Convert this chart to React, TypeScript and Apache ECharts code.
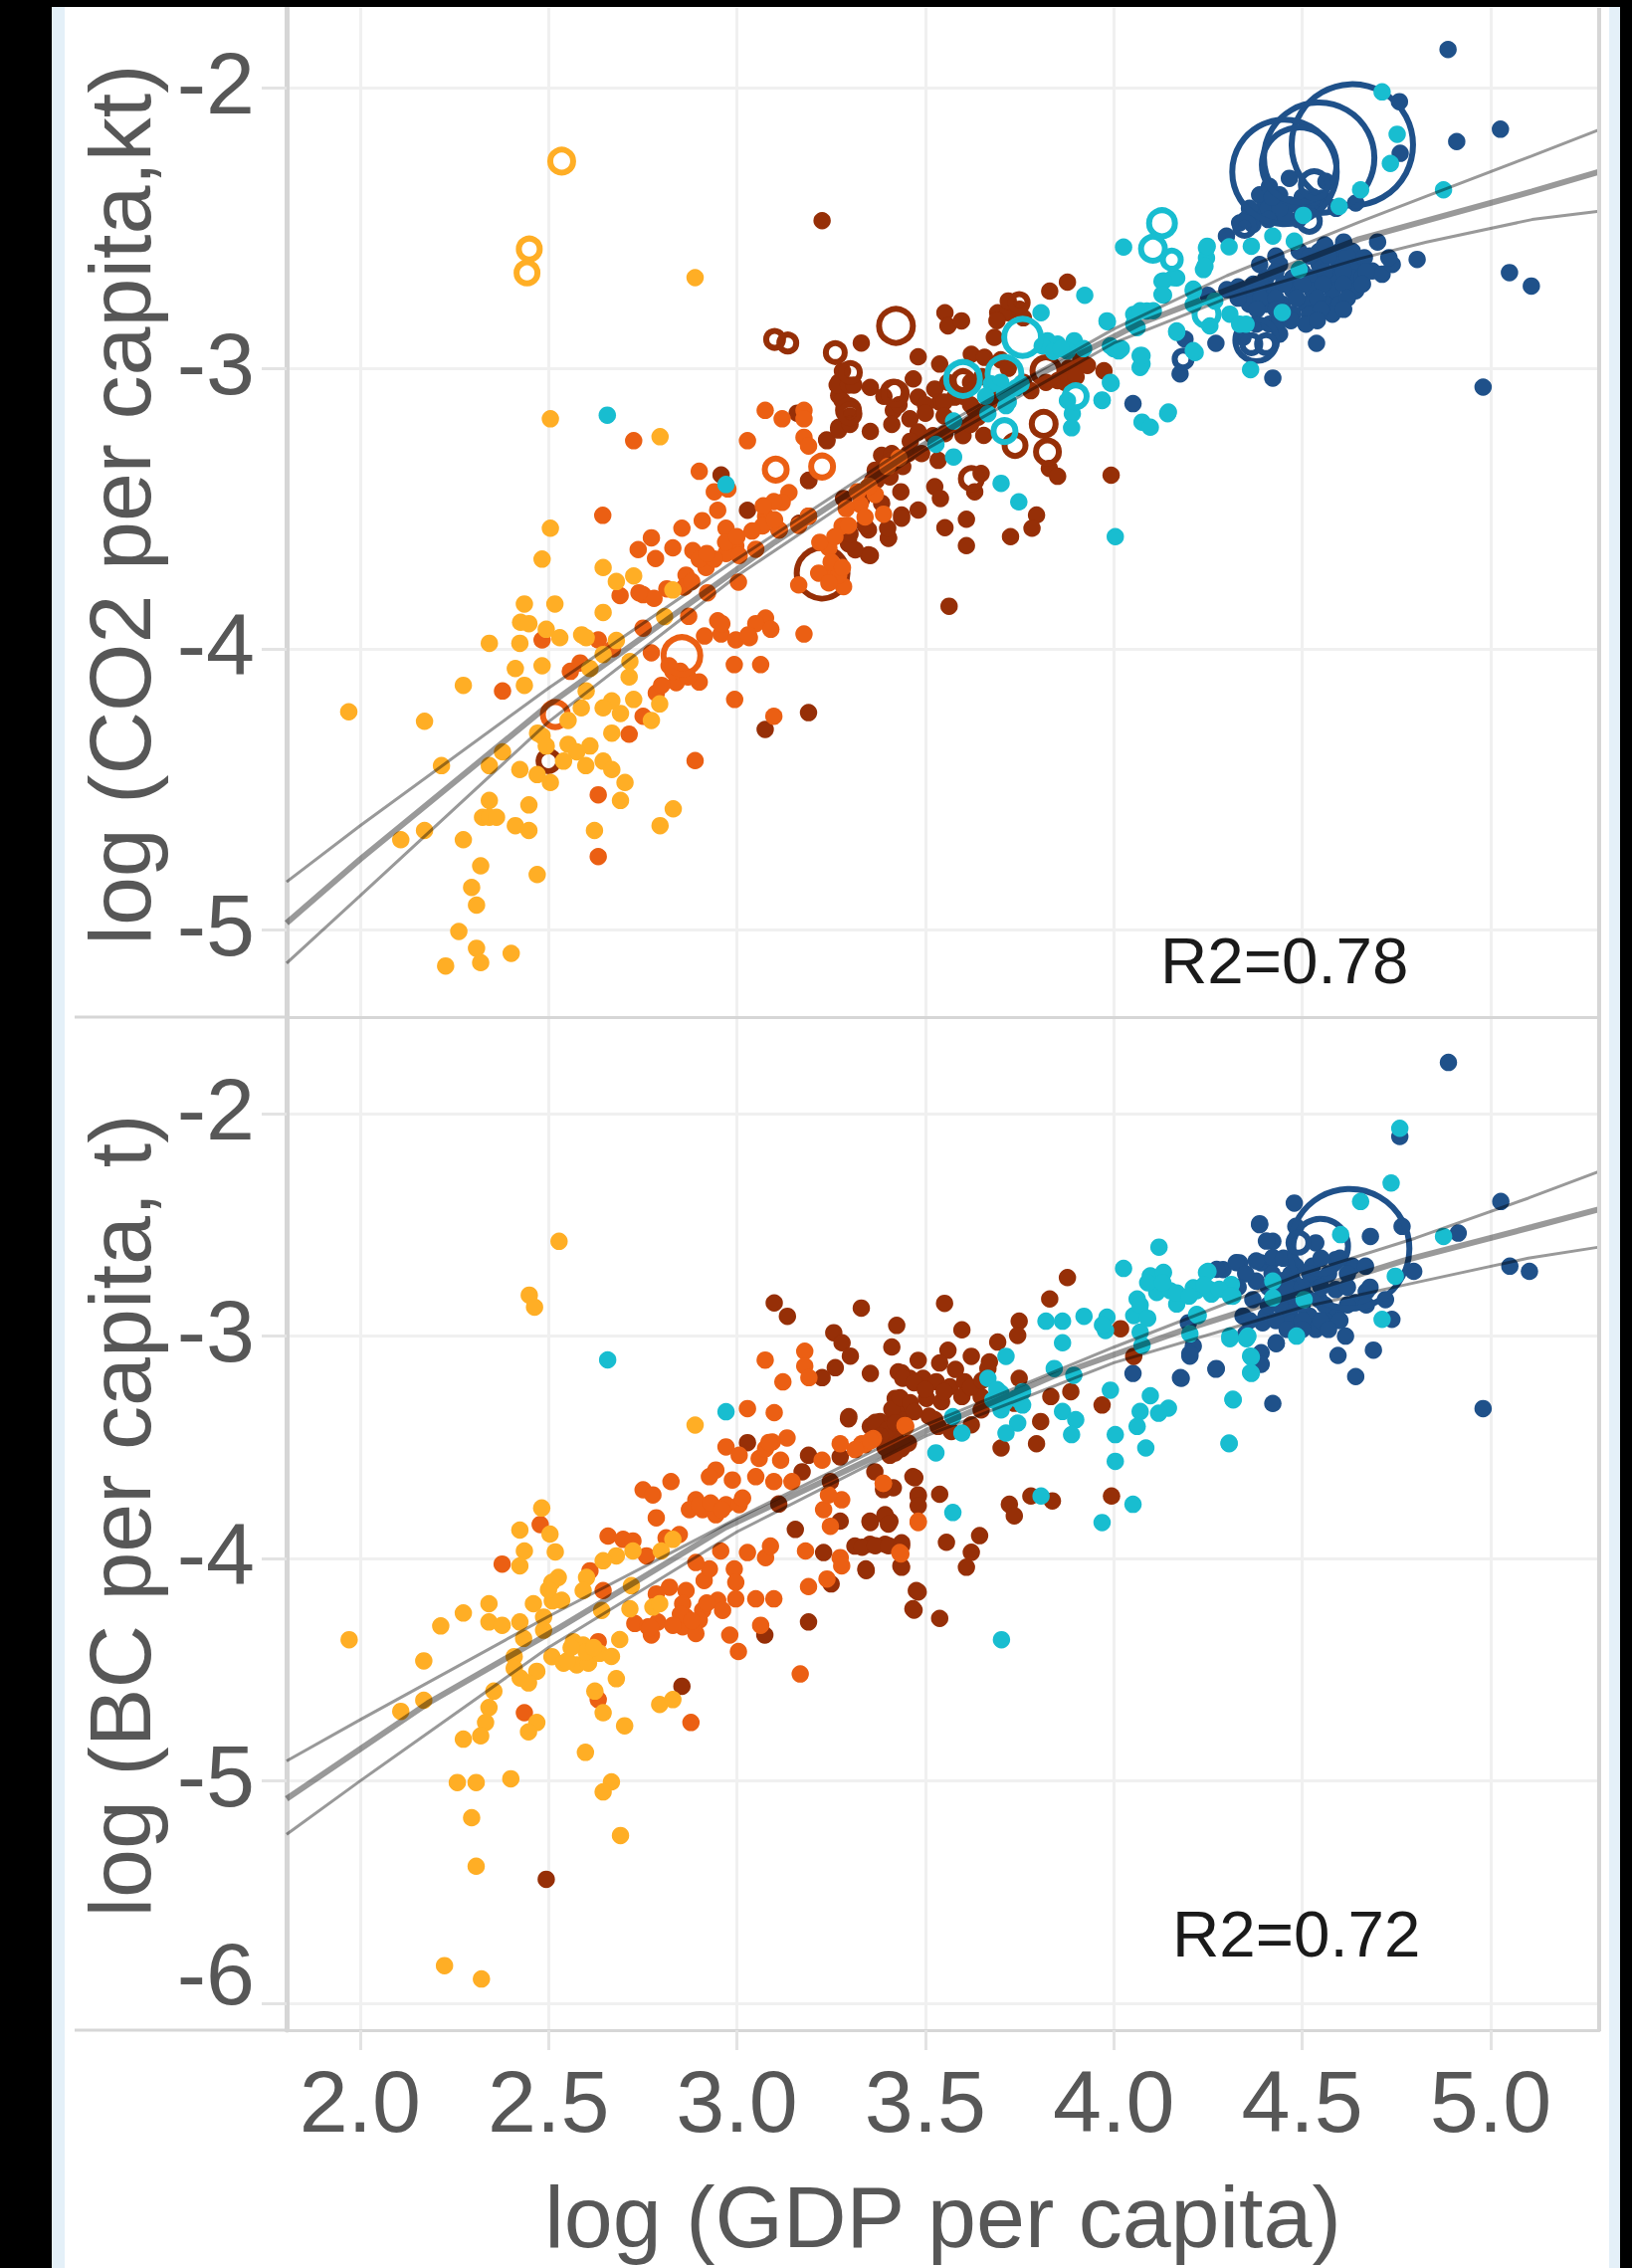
import React, { useEffect, useRef } from "react";
import * as echarts from "echarts";

type P = number[];

const xTicks = [2, 2.5, 3, 3.5, 4, 4.5, 5];
const yTicksTop = [-5, -4, -3, -2];
const yTicksBottom = [-6, -5, -4, -3, -2];
const xTitle = "log (GDP per capita)";
const yTitleTop = "log (CO2 per capita,kt)";
const yTitleBottom = "log (BC per capita, t)";
const r2Top = "R2=0.78";
const r2Bottom = "R2=0.72";

const topYellow: P[] = [[2.505,-3.18],[2.796,-3.244],[2.505,-3.57],[2.483,-3.68],[2.645,-3.71],[2.68,-3.76],[2.726,-3.74],[2.83,-3.79],[2.436,-3.84],[2.517,-3.84],[2.645,-3.87],[2.426,-3.905],[2.448,-3.91],[2.494,-3.93],[2.53,-3.96],[2.588,-3.95],[2.6,-3.96],[2.343,-3.98],[2.424,-3.98],[2.68,-3.97],[2.808,-3.885],[2.645,-4.02],[2.61,-4.07],[2.716,-4.045],[2.714,-4.1],[2.483,-4.06],[2.412,-4.07],[2.274,-4.13],[2.436,-4.13],[2.6,-4.15],[2.587,-4.21],[2.726,-4.18],[2.668,-4.185],[2.645,-4.21],[2.691,-4.23],[2.795,-4.196],[2.773,-4.255],[2.552,-4.255],[2.171,-4.258],[2.668,-4.3],[2.483,-4.31],[2.494,-4.346],[2.471,-4.3],[2.552,-4.34],[2.61,-4.346],[2.575,-4.367],[2.216,-4.416],[2.378,-4.367],[2.343,-4.416],[2.54,-4.4],[2.599,-4.416],[2.645,-4.4],[2.668,-4.43],[2.424,-4.43],[2.47,-4.448],[2.505,-4.476],[2.703,-4.476],[2.691,-4.54],[2.343,-4.54],[2.448,-4.556],[2.325,-4.6],[2.343,-4.6],[2.362,-4.6],[2.412,-4.63],[2.448,-4.647],[2.274,-4.68],[2.622,-4.647],[2.831,-4.57],[2.796,-4.63],[2.171,-4.647],[2.32,-4.773],[2.47,-4.804],[2.296,-4.85],[2.309,-4.913],[2.262,-5.007],[2.309,-5.067],[2.32,-5.118],[2.401,-5.085],[2.227,-5.13],[2.889,-2.677],[1.97,-4.224],[2.108,-4.68]];
const topOrange: P[] = [[2.644,-3.524],[2.726,-3.258],[2.9,-3.367],[3.028,-3.258],[3.075,-3.15],[3.12,-3.18],[3.178,-3.15],[3.178,-3.18],[3.178,-3.246],[3.19,-3.277],[2.976,-3.43],[2.94,-3.44],[2.949,-3.506],[2.908,-3.543],[2.854,-3.57],[2.971,-3.57],[2.773,-3.604],[2.738,-3.646],[2.784,-3.678],[2.83,-3.64],[2.883,-3.65],[2.997,-3.632],[2.971,-3.66],[2.918,-3.71],[2.865,-3.737],[3.004,-3.762],[2.814,-3.786],[2.751,-3.807],[2.69,-3.81],[3.076,-3.527],[3.068,-3.562],[3.138,-3.443],[3.12,-3.478],[3.098,-3.475],[3.244,-3.64],[3.279,-3.562],[3.327,-3.485],[3.367,-3.45],[3.389,-3.52],[3.252,-3.72],[3.283,-3.778],[3.164,-3.772],[3.217,-3.73],[3.27,-3.737],[3.244,-3.765],[2.632,-3.968],[3.076,-3.89],[3.05,-3.91],[3.09,-3.93],[2.949,-3.9],[2.914,-3.954],[2.958,-3.947],[2.997,-3.968],[3.033,-3.96],[2.872,-3.884],[3.178,-3.947],[2.773,-4.014],[2.993,-4.056],[3.063,-4.056],[2.839,-4.12],[2.786,-4.157],[2.9,-4.118],[2.994,-4.18],[3.098,-4.24],[2.751,-4.24],[2.714,-4.304],[2.378,-4.15],[2.889,-4.398],[2.632,-4.52],[2.632,-4.74],[2.483,-3.968],[2.83,-4.08],[2.558,-4.08],[2.584,-4.05],[2.67,-4.0],[2.751,-3.926],[2.922,-3.8],[3.006,-3.667],[3.05,-3.645],[3.112,-3.576],[3.164,-3.56],[3.19,-3.527],[3.4,-3.35],[3.43,-3.32],[3.35,-3.42],[3.32,-3.44],[3.29,-3.5],[3.34,-3.53],[3.296,-3.56]];
const topOrangeDense: P[] = [[3.07,-3.49],[3.1,-3.54],[3.04,-3.58],[2.9,-3.68],[2.94,-3.68],[2.86,-3.78],[2.88,-3.76],[2.78,-3.82],[2.74,-3.8],[2.92,-3.66],[2.97,-3.62],[3,-3.6],[3.25,-3.69],[3.28,-3.71],[3.22,-3.62],[3.26,-3.6],[2.85,-4.08],[2.82,-4.06],[2.8,-4.13],[2.87,-4.1],[3.03,-3.95],[2.96,-3.91]];
const topBrown: P[] = [[3.19,-4.227],[3.075,-4.287],[2.958,-3.38],[3.028,-3.506],[3.19,-3.4],[3.239,-3.258],[3.16,-3.16],[3.226,-2.474],[3.33,-2.91],[3.481,-2.959],[3.538,-2.985],[3.552,-2.802],[3.56,-2.849],[3.596,-2.831],[3.692,-2.802],[3.719,-2.802],[3.83,-2.725],[3.877,-2.693],[3.27,-3.05],[3.27,-3.097],[3.354,-3.068],[3.468,-3.038],[3.481,-3.103],[3.525,-3.074],[3.538,-3.121],[3.578,-3.103],[3.622,-2.95],[3.657,-2.961],[3.683,-2.89],[3.631,-3.15],[3.279,-3.115],[3.27,-3.21],[3.354,-3.225],[3.415,-3.15],[3.411,-3.2],[3.459,-3.18],[3.238,-3.255],[3.481,-3.227],[3.552,-3.233],[3.64,-3.174],[3.655,-3.239],[3.829,-3.357],[3.851,-3.385],[3.993,-3.381],[3.851,-3.044],[3.912,-2.973],[3.974,-3.009],[3.88,-3],[3.384,-3.31],[3.411,-3.304],[3.455,-3.304],[3.49,-3.304],[3.534,-3.328],[3.367,-3.363],[3.406,-3.387],[3.435,-3.44],[3.525,-3.422],[3.54,-3.464],[3.631,-3.44],[3.648,-3.375],[3.191,-3.399],[3.283,-3.464],[3.384,-3.481],[3.437,-3.523],[3.481,-3.505],[3.349,-3.576],[3.402,-3.606],[3.552,-3.568],[3.609,-3.538],[3.609,-3.632],[3.726,-3.6],[3.795,-3.523],[3.783,-3.57],[3.563,-3.848],[3.296,-3.611],[3.349,-3.665],[3.314,-3.647],[3.165,-3.552],[3.296,-3.625],[3.354,-3.667],[3.402,-3.604],[3.437,-3.534],[3.27,-3.22],[3.266,-3.06],[3.296,-3.06],[3.406,-3.33],[3.36,-3.4],[3.39,-3.36],[3.19,-3.527],[3.112,-3.576],[3.55,-3.12],[3.6,-3.1],[3.5,-3.13],[3.58,-3.2],[3.6,-3.24],[3.62,-3.2],[3.7,-2.97],[3.72,-3],[3.76,-3.05],[3.78,-3.08],[3.68,-3.1]];
const topBrownDense: P[] = [[3.28,-3.01],[3.31,-3.06],[3.3,-3.17],[3.3,-3.2],[3.39,-3.1],[3.43,-3.13],[3.5,-3.16],[3.56,-3.05],[3.55,-3.17],[3.62,-3.05],[3.65,-3.03],[3.62,-3.13],[3.67,-3.12],[3.46,-3.26],[3.52,-3.24],[3.44,-3.35],[3.37,-3.4],[3.33,-3.47],[3.34,-3.56],[3.3,-3.59],[3.4,-3.57],[3.75,-2.79],[3.72,-2.76],[3.69,-2.83],[3.76,-2.82],[3.82,-3.05],[3.87,-3.05],[3.9,-3.03],[3.93,-2.99]];
const topCyan: P[] = [[2.656,-3.167],[2.971,-3.414],[4.026,-2.568],[4.246,-2.571],[4.246,-2.607],[4.238,-2.648],[4.167,-2.678],[4.128,-2.69],[4.128,-2.737],[4.211,-2.725],[3.923,-2.74],[3.807,-2.802],[3.851,-2.914],[3.895,-2.902],[3.824,-2.902],[3.877,-2.938],[3.983,-2.834],[4.053,-2.808],[4.088,-2.796],[4.062,-2.855],[3.991,-2.92],[4.013,-2.938],[4.07,-2.955],[4.07,-2.997],[3.993,-3.054],[3.969,-3.113],[3.877,-3.115],[3.89,-3.162],[3.888,-3.212],[4.143,-3.162],[4.075,-3.192],[4.097,-3.21],[3.575,-3.316],[3.701,-3.41],[3.748,-3.476],[4.004,-3.6],[3.575,-3.188],[3.528,-3.271],[3.666,-3.162],[3.714,-3.133],[3.754,-3.056],[3.71,-3.09],[3.675,-3.056],[4.167,-2.867],[4.216,-2.944],[4.255,-2.849],[4.712,-2.015],[4.752,-2.166],[4.734,-2.27],[4.655,-2.364],[4.598,-2.423],[4.875,-2.364],[4.503,-2.455],[4.422,-2.529],[4.479,-2.547],[4.365,-2.565],[4.306,-2.567],[4.248,-2.565],[4.242,-2.636],[4.158,-2.677],[4.132,-2.689],[4.132,-2.739],[4.211,-2.718],[4.492,-2.648],[3.982,-2.831],[4.07,-2.795],[4.105,-2.795],[4.053,-2.843],[4.167,-2.872],[4.308,-2.807],[4.334,-2.843],[4.351,-2.843],[4.211,-2.772],[4.268,-2.76],[4.447,-2.801],[4.211,-2.937],[4.363,-3.005],[4.075,-2.984],[4.075,-2.955],[3.991,-3.05],[4.145,-3.156],[3.969,-3.115],[3.81,-2.92],[3.84,-2.94],[3.86,-2.93],[3.92,-2.93],[3.7,-3.05],[3.74,-3.07],[3.72,-3.12],[3.66,-3.1],[4,-2.93],[4.02,-2.93]];
const topNavy: P[] = [[4.887,-1.864],[5.026,-2.148],[4.91,-2.192],[4.758,-2.05],[4.76,-2.234],[5.05,-2.659],[5.108,-2.707],[4.805,-2.612],[4.98,-3.067],[4.422,-3.035],[4.538,-2.911],[4.271,-2.911],[4.176,-3.02],[4.051,-3.126],[4.189,-2.896],[4.387,-2.382],[4.413,-2.352],[4.44,-2.382],[4.466,-2.417],[4.492,-2.417],[4.527,-2.417],[4.554,-2.393],[4.387,-2.441],[4.422,-2.453],[4.457,-2.464],[4.334,-2.482],[4.369,-2.488],[4.299,-2.529],[4.563,-2.334],[4.466,-2.323],[4.642,-2.411],[4.492,-2.583],[4.545,-2.583],[4.598,-2.583],[4.633,-2.583],[4.387,-2.63],[4.44,-2.63],[4.545,-2.63],[4.598,-2.63],[4.642,-2.63],[4.404,-2.677],[4.475,-2.677],[4.527,-2.677],[4.58,-2.677],[4.633,-2.677],[4.659,-2.677],[4.36,-2.724],[4.422,-2.724],[4.475,-2.724],[4.527,-2.724],[4.58,-2.724],[4.642,-2.724],[4.36,-2.772],[4.404,-2.772],[4.448,-2.772],[4.51,-2.772],[4.563,-2.772],[4.598,-2.772],[4.475,-2.807],[4.519,-2.807],[4.58,-2.807],[4.378,-2.843],[4.413,-2.843],[4.51,-2.843],[4.25,-2.74],[4.3,-2.72],[4.33,-2.71],[4.37,-2.7],[4.686,-2.653],[4.712,-2.665],[4.739,-2.63],[4.73,-2.606],[4.665,-2.606],[4.343,-2.89],[4.44,-2.878]];
const topNavyDense: P[] = [[4.43,-2.6],[4.52,-2.6],[4.57,-2.6],[4.62,-2.6],[4.43,-2.655],[4.5,-2.655],[4.56,-2.655],[4.61,-2.655],[4.67,-2.655],[4.39,-2.7],[4.45,-2.7],[4.5,-2.7],[4.555,-2.7],[4.61,-2.7],[4.66,-2.7],[4.33,-2.75],[4.39,-2.75],[4.43,-2.75],[4.485,-2.75],[4.54,-2.75],[4.62,-2.75],[4.38,-2.79],[4.43,-2.79],[4.55,-2.79],[4.61,-2.79],[4.44,-2.83],[4.47,-2.83],[4.54,-2.83],[4.36,-2.43],[4.41,-2.43],[4.44,-2.43],[4.51,-2.43],[4.59,-2.43],[4.41,-2.47],[4.35,-2.47],[4.49,-2.47],[4.42,-2.39],[4.5,-2.39],[4.53,-2.39],[4.7,-2.55],[4.61,-2.55],[4.56,-2.56]];

const topRingsYellow: P[] = [[2.535,-2.262,2.8],[2.449,-2.575,2.6],[2.443,-2.66,2.6]];
const topRingsOrange: P[] = [[3.103,-3.361,2.7],[3.226,-3.35,2.7],[2.518,-4.234,3],[2.854,-4.024,4.2]];
const topRingsBrown: P[] = [[3.226,-3.73,5.6],[2.5,-4.4,2.5],[3.1,-2.897,2.2],[3.135,-2.91,2.2],[3.261,-2.944,2.4],[3.422,-2.849,3.9],[3.749,-2.766,2.2],[3.301,-3.015,2.4],[3.415,-3.085,2.6],[3.6,-3.044,2.4],[3.296,-3.15,2.6],[3.814,-3.198,2.9],[3.738,-3.275,2.6],[3.824,-3.298,2.8],[3.82,-3.009,3.2],[3.622,-3.393,2.6],[3.3,-3.162,2.4],[3.42,-3.09,2.8]];
const topRingsCyan: P[] = [[4.128,-2.483,3.1],[4.104,-2.574,2.9],[4.154,-2.613,2.3],[3.758,-2.89,4.2],[3.6,-3.038,3.9],[3.71,-3.02,3.9],[3.71,-3.224,2.7],[3.899,-3.1,2.7],[4.246,-2.807,2.9]];
const topRingsNavy: P[] = [[4.633,-2.204,12.7],[4.545,-2.25,11.6],[4.453,-2.3,11],[4.492,-2.275,8],[4.532,-2.346,3.2],[4.519,-2.476,2.6],[4.347,-2.494,2.4],[4.378,-2.9,4.7],[4.365,-2.914,2.3],[4.404,-2.914,2.3],[4.184,-2.967,2.2]];

const bottomYellow: P[] = [[2.889,-3.4],[2.482,-3.773],[2.424,-3.872],[2.504,-3.89],[2.436,-3.966],[2.518,-3.97],[2.424,-4.033],[2.83,-3.914],[2.799,-3.966],[2.724,-3.966],[2.68,-3.988],[2.645,-4.01],[2.526,-4.085],[2.509,-4.107],[2.601,-4.085],[2.592,-4.144],[2.535,-4.188],[2.342,-4.203],[2.274,-4.245],[2.342,-4.285],[2.377,-4.3],[2.424,-4.285],[2.46,-4.203],[2.487,-4.263],[2.214,-4.303],[2.487,-4.322],[2.434,-4.359],[2.641,-4.233],[2.72,-4.122],[2.716,-4.226],[2.777,-4.218],[2.795,-4.203],[2.689,-4.364],[2.566,-4.374],[2.592,-4.389],[2.509,-4.441],[2.54,-4.47],[2.575,-4.478],[2.606,-4.47],[2.636,-4.426],[2.667,-4.44],[2.409,-4.441],[2.409,-4.493],[2.469,-4.507],[2.425,-4.537],[2.447,-4.559],[2.68,-4.54],[2.623,-4.596],[2.355,-4.596],[2.342,-4.67],[2.333,-4.737],[2.32,-4.797],[2.274,-4.812],[2.469,-4.737],[2.447,-4.779],[2.645,-4.693],[2.702,-4.752],[2.795,-4.656],[2.83,-4.634],[2.598,-4.871],[2.4,-4.99],[2.258,-5.007],[2.308,-5.007],[2.667,-5.004],[2.645,-5.049],[2.296,-5.165],[2.691,-5.245],[2.308,-5.383],[1.971,-4.365],[2.169,-4.46],[2.108,-4.687],[2.169,-4.637],[2.224,-5.83],[2.322,-5.89],[2.528,-2.574],[2.449,-2.816],[2.463,-2.87],[2.55,-4.46],[2.6,-4.42],[2.56,-4.4],[2.51,-4.19],[2.5,-4.14],[2.62,-4.4]];
const bottomOrange: P[] = [[2.377,-4.025],[2.478,-3.847],[2.971,-3.498],[3.006,-3.536],[3.059,-3.55],[3.076,-3.506],[3.133,-3.458],[3.094,-3.476],[3.116,-3.558],[3.226,-3.558],[3.274,-3.484],[3.331,-3.484],[3.362,-3.461],[3.446,-3.402],[2.751,-3.691],[2.777,-3.714],[2.825,-3.654],[2.944,-3.602],[2.927,-3.632],[2.988,-3.647],[3.05,-3.632],[3.098,-3.654],[3.146,-3.654],[2.891,-3.736],[2.874,-3.78],[2.909,-3.78],[2.944,-3.803],[2.971,-3.758],[3.006,-3.758],[3.015,-3.728],[2.786,-3.817],[2.658,-3.899],[2.698,-3.914],[2.724,-3.921],[2.847,-3.892],[2.812,-3.907],[2.76,-3.988],[2.61,-4.055],[2.645,-4.144],[2.821,-4.129],[2.786,-4.159],[2.865,-4.144],[2.856,-4.203],[2.913,-4.099],[2.927,-4.047],[2.891,-4.018],[2.993,-4.047],[2.997,-4.107],[2.957,-3.966],[3.028,-3.973],[3.076,-3.996],[3.089,-3.944],[3.182,-3.966],[3.23,-3.78],[3.248,-3.855],[3.278,-3.736],[3.274,-3.996],[3.278,-4.033],[3.239,-4.092],[3.19,-4.126],[2.949,-4.188],[2.997,-4.181],[3.05,-4.181],[3.098,-4.181],[2.962,-4.233],[2.909,-4.233],[2.865,-4.263],[2.9,-4.277],[2.856,-4.307],[2.891,-4.337],[2.729,-4.292],[2.764,-4.307],[2.79,-4.285],[2.773,-4.344],[2.981,-4.344],[3.063,-4.3],[3.004,-4.418],[3.168,-4.519],[2.436,-4.693],[2.632,-4.374],[2.878,-4.737],[2.632,-4.634],[3.388,-3.662],[3.432,-3.973],[3.243,-3.714],[3.481,-3.832],[3.448,-3.406],[3.34,-3.488],[3.358,-3.466],[3.389,-3.662],[3.481,-3.838],[3.435,-3.979],[3.314,-3.51],[3.18,-3.068],[3.18,-3.135],[3.191,-3.187],[3.075,-3.108],[3.122,-3.206],[3.028,-3.326],[3.099,-3.344],[3.085,-3.478],[3.354,-3.47],[2.9,-3.76],[2.93,-3.75],[2.96,-3.78],[2.85,-4.25],[2.88,-4.28],[2.92,-4.2],[2.77,-4.31],[2.83,-4.3]];
const bottomBrown: P[] = [[3.028,-3.479],[3.19,-3.536],[3.274,-3.543],[3.173,-3.61],[3.111,-3.755],[3.155,-3.869],[3.248,-3.654],[3.274,-3.832],[3.353,-3.832],[3.393,-3.803],[3.406,-3.832],[3.296,-3.372],[3.358,-3.402],[3.41,-3.387],[3.419,-3.447],[3.437,-3.506],[3.406,-3.536],[3.467,-3.632],[3.481,-3.714],[3.366,-3.61],[3.23,-3.973],[3.313,-3.944],[3.353,-3.936],[3.393,-3.936],[3.437,-3.929],[3.342,-4.047],[3.435,-4.033],[3.19,-4.285],[3.25,-4.114],[3.074,-4.344],[3.476,-4.144],[3.467,-4.226],[2.854,-4.574],[2.494,-5.442],[3.33,-2.874],[3.551,-2.853],[3.424,-2.952],[3.411,-3.049],[3.597,-2.972],[3.83,-2.833],[3.877,-2.737],[3.749,-2.933],[3.745,-2.997],[3.692,-3.027],[3.56,-3.064],[3.622,-3.091],[3.481,-3.109],[3.538,-3.121],[3.67,-3.116],[3.666,-3.146],[3.354,-3.168],[3.428,-3.161],[3.459,-3.19],[3.494,-3.19],[3.529,-3.205],[3.565,-3.228],[3.604,-3.205],[3.749,-3.19],[3.42,-3.28],[3.503,-3.28],[3.543,-3.295],[3.597,-3.272],[3.442,-3.332],[3.648,-3.272],[3.525,-3.376],[3.38,-3.384],[3.354,-3.406],[3.446,-3.302],[3.806,-3.384],[3.42,-3.451],[3.795,-3.484],[3.701,-3.503],[3.886,-3.25],[3.833,-3.272],[3.969,-3.31],[4.018,-2.967],[4.053,-3.091],[3.42,-3.525],[3.393,-3.5],[3.455,-3.481],[3.534,-3.406],[3.569,-3.429],[3.622,-3.399],[3.648,-3.332],[3.736,-3.302],[3.472,-3.637],[3.415,-3.682],[3.389,-3.69],[3.481,-3.719],[3.538,-3.711],[3.723,-3.756],[3.78,-3.719],[3.837,-3.741],[3.994,-3.719],[3.736,-3.808],[3.354,-3.838],[3.393,-3.808],[3.402,-3.845],[3.481,-3.763],[3.644,-3.897],[3.556,-3.927],[3.622,-3.972],[3.332,-3.949],[3.367,-3.942],[3.402,-3.942],[3.437,-3.942],[3.609,-4.039],[3.343,-4.054],[3.437,-4.039],[3.481,-4.15],[3.47,-4.232],[3.538,-4.269],[3.099,-2.851],[3.134,-2.911],[3.257,-2.985],[3.279,-3.03],[3.301,-3.09],[3.261,-3.142],[3.226,-3.187],[3.297,-3.362],[3.367,-3.388],[3.411,-3.329],[3.433,-3.277],[3.437,-3.165],[3.44,-3.19],[3.47,-3.21],[3.5,-3.24],[3.55,-3.25],[3.46,-3.3],[3.51,-3.36],[3.47,-3.34],[3.4,-3.42],[3.38,-3.45],[3.44,-3.49],[3.42,-3.39],[3.62,-3.23],[3.58,-3.15],[3.65,-3.2]];
const bottomCyan: P[] = [[2.657,-3.107],[2.971,-3.34],[3.702,-4.365],[4.12,-2.6],[4.026,-2.696],[4.097,-2.729],[4.132,-2.714],[4.246,-2.714],[4.062,-2.833],[4.114,-2.804],[4.15,-2.796],[4.167,-2.856],[4.22,-2.796],[4.259,-2.811],[4.308,-2.789],[4.07,-2.893],[4.053,-2.908],[3.82,-2.933],[3.864,-2.933],[3.921,-2.911],[3.982,-2.915],[3.978,-2.975],[4.07,-2.982],[3.864,-3.03],[4.075,-3.042],[4.224,-2.908],[4.202,-2.99],[4.308,-3.012],[4.352,-3.012],[4.365,-3.094],[4.365,-3.168],[3.714,-3.091],[3.666,-3.19],[3.842,-3.146],[3.894,-3.176],[3.701,-3.257],[3.758,-3.25],[3.679,-3.287],[3.758,-3.31],[3.701,-3.332],[3.573,-3.362],[3.597,-3.436],[3.745,-3.391],[3.714,-3.436],[3.528,-3.525],[3.864,-3.339],[3.899,-3.376],[3.888,-3.443],[3.991,-3.243],[4.097,-3.268],[4.145,-3.324],[4.119,-3.347],[4.07,-3.339],[4.062,-3.406],[4.004,-3.443],[4.085,-3.503],[4.306,-3.484],[4.004,-3.563],[4.317,-3.287],[3.807,-3.719],[4.051,-3.756],[3.969,-3.838],[3.573,-3.793],[4.759,-2.066],[4.736,-2.312],[4.655,-2.395],[4.602,-2.544],[4.875,-2.552],[4.747,-2.731],[4.25,-2.709],[4.211,-2.783],[4.255,-2.791],[4.312,-2.768],[4.316,-2.821],[4.167,-2.806],[4.422,-2.753],[4.505,-2.836],[4.422,-2.828],[4.22,-2.903],[4.712,-2.925],[4.308,-3],[4.356,-3],[4.485,-3],[4.363,-3.09],[4.363,-3.164],[4.316,-3.284],[4.306,-3.481],[3.97,-2.95],[4.09,-2.76],[4.13,-2.76],[4.2,-2.82],[4.24,-2.77],[4.28,-2.79],[4.31,-2.82],[4.07,-2.86],[4.09,-2.92],[3.71,-3.3],[3.74,-3.28],[3.69,-3.24]];
const bottomNavy: P[] = [[4.888,-1.77],[4.759,-2.103],[5.027,-2.395],[4.914,-2.537],[5.051,-2.686],[5.103,-2.709],[4.98,-3.326],[4.479,-2.402],[4.387,-2.495],[4.765,-2.507],[4.681,-2.552],[4.536,-2.581],[4.483,-2.507],[4.422,-2.574],[4.796,-2.709],[4.334,-2.671],[4.29,-2.701],[4.391,-2.671],[4.422,-2.656],[4.483,-2.686],[4.527,-2.686],[4.589,-2.656],[4.633,-2.686],[4.668,-2.686],[4.378,-2.753],[4.536,-2.746],[4.589,-2.791],[4.721,-2.836],[4.369,-2.836],[4.461,-2.836],[4.545,-2.836],[4.343,-2.91],[4.404,-2.91],[4.466,-2.895],[4.519,-2.91],[4.589,-2.895],[4.536,-2.97],[4.431,-3.03],[4.395,-2.94],[4.615,-3],[4.738,-2.925],[4.198,-2.94],[4.211,-3.045],[4.202,-3.09],[4.391,-3.075],[4.391,-3.127],[4.595,-3.087],[4.689,-3.063],[4.642,-3.182],[4.272,-3.146],[4.177,-3.187],[4.422,-3.303],[4.387,-2.499],[4.273,-2.7],[4.325,-2.67],[4.405,-2.573],[4.378,-2.662],[4.422,-2.647],[4.202,-3.079],[4.051,-3.168],[4.179,-3.19],[4.271,-3.149],[4.431,-3.034],[4.45,-2.75],[4.48,-2.78],[4.43,-2.79],[4.47,-2.94],[4.5,-2.96],[4.56,-2.93],[4.64,-2.85],[4.67,-2.8],[4.35,-2.99]];
const bottomNavyDense: P[] = [[4.35,-2.72],[4.42,-2.72],[4.47,-2.72],[4.52,-2.72],[4.57,-2.72],[4.62,-2.72],[4.33,-2.78],[4.41,-2.78],[4.46,-2.78],[4.5,-2.78],[4.55,-2.78],[4.62,-2.78],[4.68,-2.78],[4.41,-2.86],[4.44,-2.86],[4.5,-2.86],[4.56,-2.86],[4.62,-2.86],[4.67,-2.86],[4.36,-2.93],[4.43,-2.93],[4.5,-2.93],[4.55,-2.93],[4.6,-2.93],[4.46,-2.97],[4.5,-2.97],[4.57,-2.97],[4.45,-2.65],[4.55,-2.65],[4.6,-2.65]];
const bottomRingsNavy: P[] = [[4.626,-2.607,12.5],[4.549,-2.596,6],[4.49,-2.58,2.5]];

const topFit: P[] = [[1.805,-4.977],[2,-4.75],[2.5,-4.2],[3.1,-3.62],[3.45,-3.31],[3.79,-3.03],[4.07,-2.84],[4.65,-2.54],[5.11,-2.37],[5.288,-2.3]];
const topUpper: P[] = [[1.805,-4.83],[2,-4.63],[2.5,-4.14],[3,-3.68],[3.5,-3.24],[4,-2.86],[4.3,-2.67],[4.65,-2.48],[4.83,-2.387],[5.11,-2.243],[5.288,-2.15]];
const topLower: P[] = [[1.805,-5.12],[2,-4.88],[2.5,-4.26],[3,-3.74],[3.5,-3.29],[4,-2.91],[4.3,-2.75],[4.65,-2.61],[4.83,-2.55],[5.11,-2.47],[5.288,-2.44]];
const bottomFit: P[] = [[1.805,-5.08],[2.18,-4.65],[2.53,-4.31],[2.97,-3.86],[3.37,-3.54],[3.51,-3.42],[3.84,-3.18],[4.19,-2.97],[4.77,-2.66],[5.11,-2.51],[5.288,-2.43]];
const bottomUpper: P[] = [[1.805,-4.91],[2,-4.725],[2.5,-4.26],[3,-3.82],[3.5,-3.4],[4,-3.05],[4.5,-2.72],[4.8,-2.56],[5.1,-2.38],[5.288,-2.26]];
const bottomLower: P[] = [[1.805,-5.24],[2,-5],[2.5,-4.4],[3,-3.88],[3.5,-3.45],[4,-3.12],[4.5,-2.87],[4.8,-2.76],[5.1,-2.65],[5.288,-2.6]];

const YELLOW = "#ffae25";
const ORANGE = "#eb5f13";
const BROWN = "#962f07";
const CYAN = "#18bdd0";
const NAVY = "#1f518a";
const AXIS = "#d6d6d6";
const GRID = "#f0f0f0";
const TEXT = "#575757";
const FONT = "'Liberation Sans', Arial, sans-serif";

function dots(data: P[], color: string, i: number, z: number) {
  return {
    type: "scatter", xAxisIndex: i, yAxisIndex: i, data, symbolSize: 17.5, z, silent: true,
    itemStyle: { color, opacity: 1 },
  };
}
function rings(data: P[], color: string, i: number, z: number) {
  return {
    type: "scatter", xAxisIndex: i, yAxisIndex: i, data, z, silent: true,
    symbolSize: (d: number[]) => d[2] * 10 - 5,
    itemStyle: { color: "rgba(0,0,0,0)", borderColor: color, borderWidth: 6, opacity: 1 },
  };
}
function curve(data: P[], i: number, width: number) {
  return {
    type: "line", xAxisIndex: i, yAxisIndex: i, data, showSymbol: false, smooth: false, z: 8, silent: true,
    lineStyle: { color: "#000", width, opacity: 0.4 },
  };
}

function yAxis(i: number, min: number, max: number, ticks: number[], name: string) {
  return {
    type: "value", gridIndex: i, min, max, name, nameLocation: "middle", nameGap: 124, nameRotate: 90,
    nameTextStyle: { fontFamily: FONT, fontSize: 88, color: TEXT, padding: [0, 0, 0, 16], verticalAlign: "bottom" },
    axisLine: { show: true, onZero: false, lineStyle: { color: AXIS, width: 5 } },
    axisTick: { show: true, length: 25, customValues: ticks, lineStyle: { color: "#e3e3e3", width: 3 } },
    splitLine: { show: true, lineStyle: { color: GRID, width: 3 } },
    axisLabel: {
      show: true, customValues: ticks, margin: 32, fontFamily: FONT, fontSize: 88, color: TEXT, padding: [0, 0, 10, 0],
      formatter: (v: number) => (v === -6 ? "{low|-6}" : String(v)),
      rich: { low: { fontFamily: FONT, fontSize: 88, color: TEXT, padding: [0, 0, 50, 0] } },
    },
  };
}
function xAxis(i: number, showLabels: boolean) {
  return {
    type: "value", gridIndex: i, min: 1.805, max: 5.288,
    name: showLabels ? xTitle : "", nameLocation: "middle", nameGap: 143,
    nameTextStyle: { fontFamily: FONT, fontSize: 88, color: TEXT },
    axisLine: { show: true, onZero: false, lineStyle: { color: AXIS, width: 3 } },
    axisTick: { show: showLabels, length: 20, customValues: xTicks, lineStyle: { color: "#e3e3e3", width: 3 } },
    splitLine: { show: true, lineStyle: { color: GRID, width: 3 } },
    axisLabel: {
      show: showLabels, customValues: xTicks, margin: 27, fontFamily: FONT, fontSize: 88, color: TEXT,
      formatter: (v: number) => v.toFixed(1),
    },
  };
}

export default function App() {
  const ref = useRef<HTMLDivElement>(null);
  useEffect(() => {
    const chart = echarts.init(ref.current!, undefined, { renderer: "svg" });
    chart.setOption({
      animation: false,
      backgroundColor: "transparent",
      grid: [
        { left: 288, right: 33, top: 8, height: 1014, containLabel: false },
        { left: 288, right: 33, top: 1022, height: 1018, containLabel: false },
      ],
      xAxis: [xAxis(0, false), xAxis(1, true)],
      yAxis: [
        yAxis(0, -5.312, -1.716, yTicksTop, yTitleTop),
        yAxis(1, -6.12, -1.566, yTicksBottom, yTitleBottom),
      ],
      graphic: [
        { type: "line", z: 9, shape: { x1: 75, y1: 1022, x2: 288, y2: 1022 }, style: { stroke: AXIS, lineWidth: 3 } },
        { type: "line", z: 9, shape: { x1: 75, y1: 2040, x2: 288, y2: 2040 }, style: { stroke: AXIS, lineWidth: 3 } },
        { type: "line", z: 9, shape: { x1: 1607, y1: 8, x2: 1607, y2: 2041 }, style: { stroke: AXIS, lineWidth: 4 } },
        { type: "text", z: 9, x: 1166, y: 932, style: { text: r2Top, fontFamily: FONT, fontSize: 65.5, fill: "#1a1a1a" } },
        { type: "text", z: 9, x: 1178, y: 1910, style: { text: r2Bottom, fontFamily: FONT, fontSize: 65.5, fill: "#1a1a1a" } },
      ],
      series: [
        dots(topNavy, NAVY, 0, 2), dots(topNavyDense, NAVY, 0, 2), rings(topRingsNavy, NAVY, 0, 2),
        dots(topBrown, BROWN, 0, 3), dots(topBrownDense, BROWN, 0, 3), rings(topRingsBrown, BROWN, 0, 3),
        dots(topOrange, ORANGE, 0, 4), dots(topOrangeDense, ORANGE, 0, 4), rings(topRingsOrange, ORANGE, 0, 4),
        dots(topYellow, YELLOW, 0, 5), rings(topRingsYellow, YELLOW, 0, 5),
        dots(topCyan, CYAN, 0, 6), rings(topRingsCyan, CYAN, 0, 6),
        curve(topFit, 0, 6), curve(topUpper, 0, 3), curve(topLower, 0, 3),
        dots(bottomNavy, NAVY, 1, 2), dots(bottomNavyDense, NAVY, 1, 2), rings(bottomRingsNavy, NAVY, 1, 2),
        dots(bottomBrown, BROWN, 1, 3),
        dots(bottomOrange, ORANGE, 1, 4),
        dots(bottomYellow, YELLOW, 1, 5),
        dots(bottomCyan, CYAN, 1, 6),
        curve(bottomFit, 1, 6), curve(bottomUpper, 1, 3), curve(bottomLower, 1, 3),
      ],
    });
    return () => chart.dispose();
  }, []);

  const box = (left: number, top: number, width: number, height: number, background: string, zIndex = 0) => (
    <div style={{ position: "absolute", left, top, width, height, background, zIndex }} />
  );
  return (
    <div style={{ position: "absolute", left: 0, top: 0, width: 1640, height: 2279, overflow: "hidden", background: "#000" }}>
      {box(52, 0, 13, 2279, "#e4f0f8")}
      {box(65, 0, 1552, 2279, "#fff")}
      {box(1617, 0, 11, 2279, "#e4f0f8")}
      <div ref={ref} style={{ position: "absolute", left: 0, top: 0, width: 1640, height: 2279, zIndex: 1, filter: "blur(0.7px)" }} />
      {box(0, 0, 1640, 7, "#000", 2)}
    </div>
  );
}
